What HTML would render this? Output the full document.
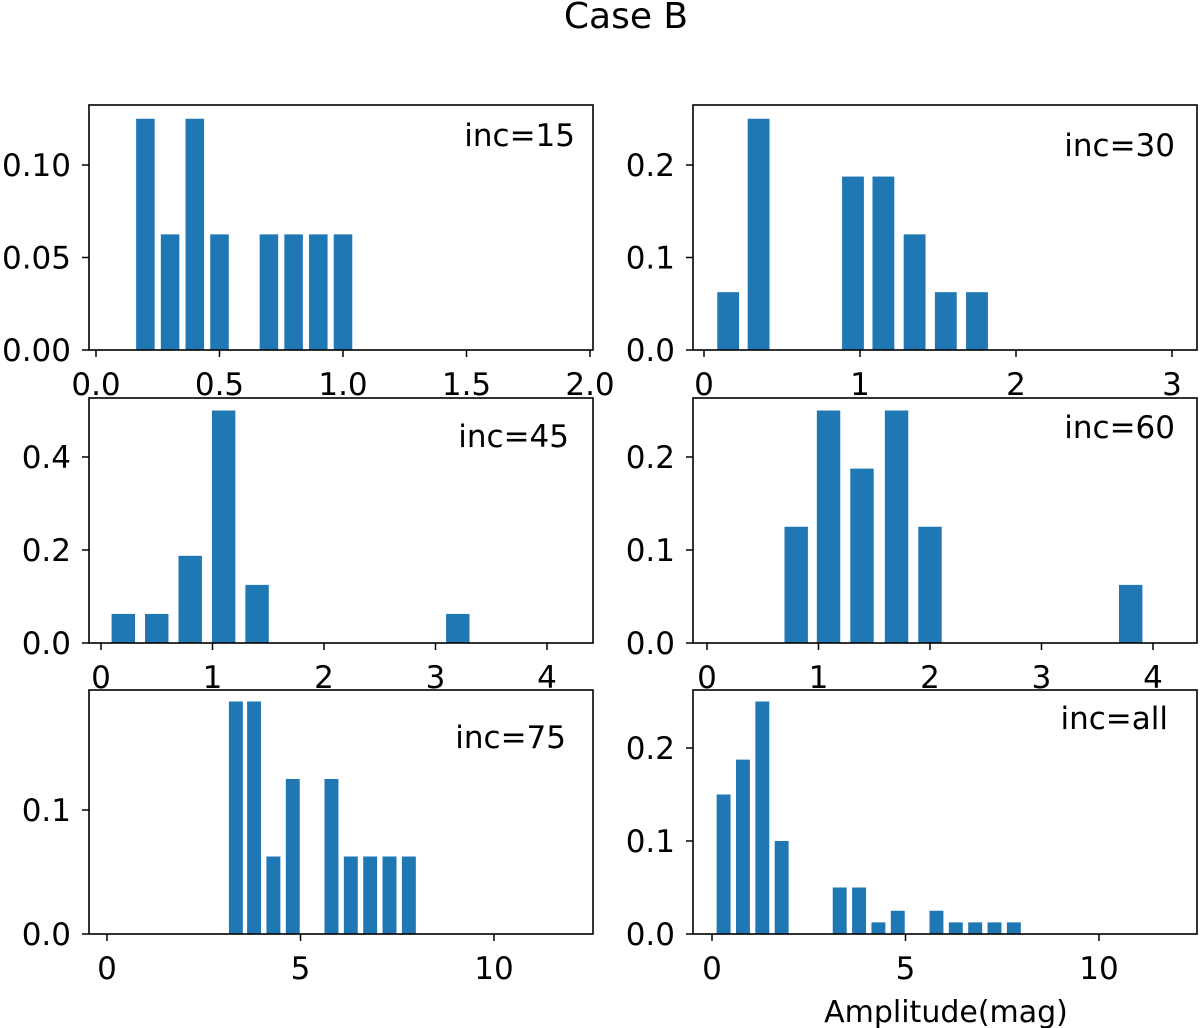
<!DOCTYPE html>
<html><head><meta charset="utf-8"><style>
body{margin:0;background:#fff;}
svg{display:block;font-family:"DejaVu Sans","Liberation Sans",sans-serif;}
</style></head><body>
<svg id="chart" width="1200" height="1028" viewBox="0 0 1200 1028">
<text x="626" y="28" font-size="36" text-anchor="middle">Case B</text>
<text x="946" y="1022" font-size="30" text-anchor="middle">Amplitude(mag)</text>
</svg>
<script>
const panelLabels=["inc=15","inc=30","inc=45","inc=60","inc=75","inc=all"];
const centers1=[0.2,0.3,0.4,0.5,0.7,0.8,0.9,1.0];
const values1=[0.125,0.0625,0.125,0.0625,0.0625,0.0625,0.0625,0.0625];
const centers2=[0.155,0.35,0.955,1.15,1.35,1.55,1.75];
const values2=[0.0625,0.25,0.1875,0.1875,0.125,0.0625,0.0625];
const centers3=[0.2,0.5,0.8,1.1,1.4,3.2];
const values3=[0.0625,0.0625,0.1875,0.5,0.125,0.0625];
const centers4=[0.8,1.09,1.39,1.7,2.0,3.8];
const values4=[0.125,0.25,0.1875,0.25,0.125,0.0625];
const centers5=[3.33,3.8,4.3,4.8,5.8,6.3,6.8,7.3,7.8];
const values5=[0.1875,0.1875,0.0625,0.125,0.125,0.0625,0.0625,0.0625,0.0625];
const centers6=[0.3,0.8,1.3,1.8,3.3,3.8,4.3,4.8,5.8,6.3,6.8,7.3,7.8];
const values6=[0.15,0.1875,0.25,0.1,0.05,0.05,0.0125,0.025,0.025,0.0125,0.0125,0.0125,0.0125];
const xTicks1=["0.0","0.5","1.0","1.5","2.0"];
const xTicks2=["0","1","2","3"];
const xTicks34=["0","1","2","3","4"];
const xTicks56=["0","5","10"];
const yTicks1=["0.00","0.05","0.10"];
const yTicks2=["0.0","0.1","0.2"];
const yTicks3=["0.0","0.2","0.4"];
const yTicks5=["0.0","0.1"];

const NS="http://www.w3.org/2000/svg";
const svg=document.getElementById('chart');
function mk(tag,attrs,parent){const e=document.createElementNS(NS,tag);for(const k in attrs)e.setAttribute(k,attrs[k]);(parent||svg).appendChild(e);return e;}

const panels=[
 {L:89,R:593,T:105,B:350,x0:96,xs:247,ys:1850,c:centers1,v:values1,w:0.075,xt:xTicks1,yt:yTicks1,lx:575,ly:146},
 {L:693,R:1197,T:105,B:350,x0:704,xs:156,ys:925,c:centers2,v:values2,w:0.14,xt:xTicks2,yt:yTicks2,lx:1175,ly:156},
 {L:89,R:593,T:398,B:643,x0:101,xs:111.5,ys:465,c:centers3,v:values3,w:0.21,xt:xTicks34,yt:yTicks3,lx:569,ly:447},
 {L:693,R:1197,T:398,B:643,x0:707,xs:111.5,ys:930,c:centers4,v:values4,w:0.21,xt:xTicks34,yt:yTicks2,lx:1175,ly:438},
 {L:89,R:593,T:690,B:934,x0:107,xs:38.7,ys:1240,c:centers5,v:values5,w:0.36,xt:xTicks56,yt:yTicks5,lx:566,ly:748},
 {L:693,R:1197,T:690,B:934,x0:712,xs:38.7,ys:930,c:centers6,v:values6,w:0.36,xt:xTicks56,yt:yTicks2,lx:1168,ly:729}
];
panels.forEach((p,i)=>{
 const g=mk('g',{});
 
 
 const xS=v=>p.x0+v*p.xs, yS=v=>p.B-v*p.ys;
 p.c.forEach((c,j)=>{
  const r=mk('rect',{x:xS(c-p.w/2),y:yS(p.v[j]),width:p.w*p.xs,height:p.v[j]*p.ys,fill:'#1f77b4'},g);
  
  
 });
 const box=mk('rect',{x:p.L,y:p.T,width:p.R-p.L,height:p.B-p.T,fill:'none',stroke:'#000','stroke-width':1.6},g);
 
 
 p.xt.forEach(t=>{
  const x=xS(parseFloat(t));
  mk('line',{x1:x,x2:x,y1:p.B,y2:p.B+7,stroke:'#000','stroke-width':1.5},g);
  const tx=mk('text',{x:x,y:p.B+45,'font-size':31,'text-anchor':'middle'},g);
  tx.textContent=t;
  
  
 });
 p.yt.forEach(t=>{
  const y=yS(parseFloat(t));
  mk('line',{x1:p.L-7,x2:p.L,y1:y,y2:y,stroke:'#000','stroke-width':1.5},g);
  const tx=mk('text',{x:p.L-18,y:y+11,'font-size':31,'text-anchor':'end'},g);
  tx.textContent=t;
  
  
 });
 const lb=mk('text',{x:p.lx,y:p.ly,'font-size':31,'text-anchor':'end'},g);
 lb.textContent=panelLabels[i];
 
 
});
</script>
</body></html>
